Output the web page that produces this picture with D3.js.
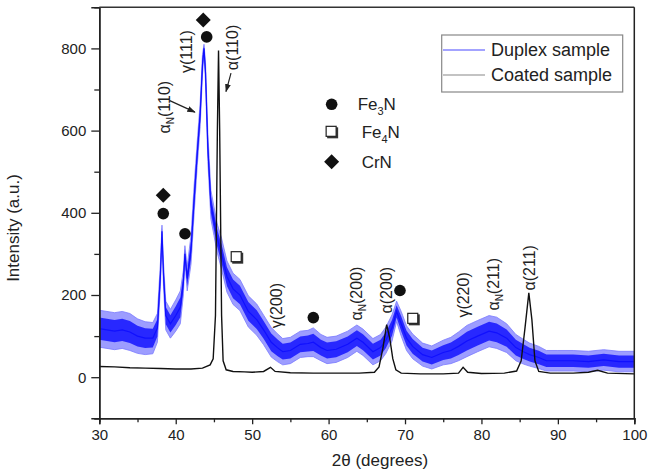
<!DOCTYPE html>
<html><head><meta charset="utf-8">
<script src="https://cdn.jsdelivr.net/npm/d3@7"></script>
<style>
body{margin:0;background:#fff;}
text{font-family:"Liberation Sans",Arial,sans-serif;fill:#222;}
</style></head>
<body><svg id="c" width="649" height="473"></svg>
<script>
// ---- data ----
const duplexX = [30,31,32,33,34,35,36,37,37.6,38.0,38.2,38.4,38.7,39.3,40.0,40.6,41.0,41.2,41.5,42.0,42.4,42.8,43.2,43.5,43.7,43.9,44.2,44.6,45.0,45.4,46.0,46.7,47.5,48.4,49.5,50.6,51.5,52.5,53.3,54.0,55.0,56.3,57.3,58.0,59.0,59.8,61.0,62.5,63.7,64.5,65.8,66.8,67.5,68.3,68.9,69.5,70.2,71.0,72.3,73.5,75.0,76.0,77.0,78.1,79.5,81.0,82.0,83.3,84.5,85.5,86.3,87.5,88.5,90,92,94,96,98,100];
const duplexY = [118,115,112,115,110,100,95,95,120,250,355,250,150,130,150,170,230,300,240,310,430,540,640,760,800,740,560,420,380,340,300,245,215,200,160,140,115,85,72,62,65,80,82,85,72,65,68,80,95,85,62,72,90,120,160,130,95,75,55,48,60,65,75,88,100,112,108,95,72,62,55,48,40,40,40,38,42,38,38];
// half-width of the noise band around the duplex trace
const duplexSpread = [45,45,45,45,45,42,40,38,35,30,15,30,35,35,38,40,30,20,30,35,35,30,30,25,10,25,35,35,35,35,38,38,38,38,38,38,36,36,34,32,32,32,32,35,32,32,32,32,32,32,32,32,32,32,25,30,30,30,28,28,30,32,35,38,38,38,38,35,32,30,28,27,25,25,25,25,25,25,25];

const coatedX = [30,32,34,36,38,40,42,43.5,44.5,44.9,45.2,45.45,45.6,45.75,46.0,46.2,46.6,47.5,49,50,51.5,52.4,53,55,58,61,64,66,66.6,67.1,67.6,68.0,68.4,68.8,69.5,72,75,77,77.6,78.2,80,83,84.6,85.2,85.7,86.2,86.6,87.0,87.5,89,92,94,95.2,96.5,100];
const coatedY = [26,25,23,22,21,20,20,22,30,45,150,600,795,600,150,40,18,14,13,12,14,24,14,11,10,10,10,12,25,70,128,95,45,18,10,8,8,10,24,12,9,10,15,40,120,205,140,40,14,10,10,12,17,10,8];

const xTicks = [30,40,50,60,70,80,90,100];
const yTicks = [0,200,400,600,800];
const seriesNames = ["Duplex sample","Coated sample"];

// peak labels: text, sub, x (deg), y (bottom of rotated label, intensity)
const peakText = ["α","γ","α","γ","α","α","γ","α","α"];
const peakSub  = ["N","","","","N","","","N",""];
const peakHkl  = ["(110)","(111)","(110)","(200)","(200)","(200)","(220)","(211)","(211)"];
const peakX    = [38.55,41.45,47.45,53.15,63.7,67.5,77.7,81.6,86.3];
const peakY    = [593,740,747,119,138,155,145,162,211];

// phase markers
const markType = ["CrN","Fe3N","CrN","Fe3N","Fe3N","Fe4N","Fe3N","Fe3N","Fe4N"];
const markX    = [43.6,44.05,38.37,38.37,41.21,47.98,58.0,69.34,71.08];
const markY    = [869,828,443,398,349,292,145,211,142];

// marker key
const keyType = ["Fe3N","Fe4N","CrN"];
const keyMain = ["Fe","Fe","CrN"];
const keySub  = ["3","4",""];
const keyTail = ["N","N",""];
const keyX = 60.4, keyY = [664,597,524];

// arrows [x1,y1,x2,y2] in data units
const arrows = [[39.22,673,42.51,645],[47.23,740,46.58,695]];

// ---- drawing ----
const svg = d3.select("#c");
const L=99.3, R=634.3, T=7.3, B=418.3;
const x = d3.scaleLinear().domain([30,100]).range([L,R]);
const y = d3.scaleLinear().domain([-100,900]).range([B,T]);

const defs = svg.append("defs");
defs.append("clipPath").attr("id","clip").append("rect").attr("x",L).attr("y",T).attr("width",R-L).attr("height",B-T);
defs.append("marker").attr("id","arr").attr("viewBox","0 0 10 10").attr("refX",9).attr("refY",5)
  .attr("markerWidth",7).attr("markerHeight",7).attr("orient","auto")
  .append("path").attr("d","M0,1.5 L10,5 L0,8.5 Z").attr("fill","#222");

const g = svg.append("g").attr("clip-path","url(#clip)");
const idx = d3.range(duplexX.length);
// outer (spiky extremes) band
g.append("path").datum(idx)
  .attr("d", d3.area().x(i=>x(duplexX[i])).y0(i=>y(duplexY[i]-duplexSpread[i])).y1(i=>y(duplexY[i]+duplexSpread[i])))
  .attr("fill","#5c5cff").attr("fill-opacity",0.6).attr("stroke","#7a7aff").attr("stroke-width",0.8);
// dense core of the noisy trace
g.append("path").datum(idx)
  .attr("d", d3.area().x(i=>x(duplexX[i])).y0(i=>y(duplexY[i]-duplexSpread[i]*0.6)).y1(i=>y(duplexY[i]+duplexSpread[i]*0.6)))
  .attr("fill","#1414ff").attr("fill-opacity",0.85);
g.append("path").datum(idx)
  .attr("d", d3.line().x(i=>x(duplexX[i])).y(i=>y(duplexY[i])))
  .attr("fill","none").attr("stroke","#1010ff").attr("stroke-width",1.2);
const cidx = d3.range(coatedX.length);
g.append("path").datum(cidx)
  .attr("d", d3.line().x(i=>x(coatedX[i])).y(i=>y(coatedY[i])))
  .attr("fill","none").attr("stroke","#111").attr("stroke-width",1.4);

// axes
svg.append("g").attr("transform",`translate(0,${B})`)
  .call(d3.axisBottom(x).tickValues(xTicks).tickSize(6).tickPadding(5).tickFormat(d3.format("d")));
svg.append("g").attr("transform",`translate(0,${B})`)
  .call(d3.axisBottom(x).tickValues(d3.range(35,100,10)).tickSize(4).tickFormat(""));
svg.append("g").attr("transform",`translate(${L},0)`)
  .call(d3.axisLeft(y).tickValues(yTicks).tickSize(8).tickPadding(5));
svg.append("g").attr("transform",`translate(${L},0)`)
  .call(d3.axisLeft(y).tickValues([-100,100,300,500,700]).tickSize(5).tickFormat(""));
svg.selectAll(".domain").attr("stroke","#222").attr("stroke-width",1.5);
svg.selectAll(".tick line").attr("stroke","#222").attr("stroke-width",1.3);
svg.selectAll(".tick text").attr("font-size",15).attr("fill","#333").style("font-family","Liberation Sans, Arial, sans-serif");
// frame top/right
svg.append("line").attr("x1",L).attr("x2",R).attr("y1",T).attr("y2",T).attr("stroke","#333").attr("stroke-width",1.5);
svg.append("line").attr("x1",R).attr("x2",R).attr("y1",T).attr("y2",B).attr("stroke","#222").attr("stroke-width",1.5);

// axis titles
svg.append("text").attr("x",380).attr("y",466).attr("text-anchor","middle").attr("font-size",17).attr("fill","#333").text("2θ  (degrees)");
svg.append("text").attr("transform","translate(19,228) rotate(-90)").attr("text-anchor","middle").attr("font-size",17).attr("fill","#333").text("Intensity (a.u.)");

// peak labels
peakText.forEach((t,i)=>{
  const tx = svg.append("text").attr("transform",`translate(${x(peakX[i])},${y(peakY[i])}) rotate(-90)`)
    .attr("dy","0.35em").attr("font-size",16).attr("fill","#333");
  tx.append("tspan").text(t);
  if (peakSub[i]) {
    tx.append("tspan").attr("font-size",10).attr("dy","4").text(peakSub[i]);
    tx.append("tspan").attr("dy","-4").text(peakHkl[i]);
  } else tx.append("tspan").text(peakHkl[i]);
});

// arrows
arrows.forEach(a=>{
  svg.append("line").attr("x1",x(a[0])).attr("y1",y(a[1])).attr("x2",x(a[2])).attr("y2",y(a[3]))
    .attr("stroke","#222").attr("stroke-width",1.2).attr("marker-end","url(#arr)");
});

function drawMark(type, px, py){
  if (type==="Fe3N") svg.append("circle").attr("cx",px).attr("cy",py).attr("r",5.8).attr("fill","#111");
  else if (type==="CrN") svg.append("path").attr("d",`M${px},${py-7.5}L${px+7.5},${py}L${px},${py+7.5}L${px-7.5},${py}Z`).attr("fill","#111");
  else {
    svg.append("rect").attr("x",px-4.5).attr("y",py-4.5).attr("width",11).attr("height",11).attr("fill","#333");
    svg.append("rect").attr("x",px-5.5).attr("y",py-5.5).attr("width",10).attr("height",10).attr("fill","#fff").attr("stroke","#222").attr("stroke-width",1.2);
  }
}
markType.forEach((t,i)=>drawMark(t, x(markX[i]), y(markY[i])));

// marker key
keyType.forEach((t,i)=>{
  drawMark(t, x(keyX), y(keyY[i]));
  const tx = svg.append("text").attr("x", x(keyX)+ (i===0?26:30)).attr("y", y(keyY[i])).attr("dy","0.35em").attr("font-size",17).attr("fill","#222");
  tx.append("tspan").text(keyMain[i]);
  if (keySub[i]) {
    tx.append("tspan").attr("font-size",11).attr("dy","5").text(keySub[i]);
    tx.append("tspan").attr("dy","-5").text(keyTail[i]);
  }
});

// series legend
const lg = svg.append("g");
lg.append("rect").attr("x",441.7).attr("y",35).attr("width",181).attr("height",57).attr("fill","#fff").attr("stroke","#888").attr("stroke-width",1.2);
const lgCol = ["#4848ff","#888"];
seriesNames.forEach((n,i)=>{
  const yy = 50 + i*25;
  lg.append("line").attr("x1",443).attr("x2",485).attr("y1",yy).attr("y2",yy).attr("stroke",lgCol[i]).attr("stroke-width",1.2);
  lg.append("text").attr("x",491).attr("y",yy).attr("dy","0.35em").attr("font-size",18).attr("fill","#222").text(n);
});
</script></body></html>
